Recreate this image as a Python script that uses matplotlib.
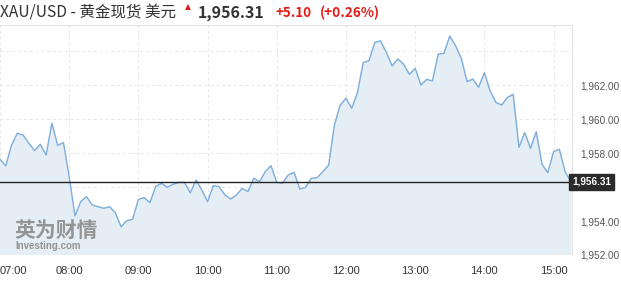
import matplotlib
matplotlib.use("Agg")
import matplotlib.pyplot as plt
import numpy as np

# ---- data (5-minute intervals starting 07:00) ----
prices = [
    1957.63, 1957.24, 1958.47, 1959.16, 1959.06, 1958.57, 1958.14, 1958.51, 1957.88, 1959.75,
    1958.45, 1958.61, 1956.60, 1954.29, 1955.14, 1955.43, 1954.94, 1954.84, 1954.75, 1954.84,
    1954.49, 1953.66, 1954.02, 1954.10, 1955.27, 1955.37, 1955.08, 1956.02, 1956.22, 1955.98,
    1956.16, 1956.27, 1956.27, 1955.66, 1956.41, 1955.82, 1955.14, 1956.08, 1956.02, 1955.53,
    1955.29, 1955.53, 1955.92, 1955.73, 1956.51, 1956.31, 1956.90, 1957.25, 1956.27, 1956.22,
    1956.71, 1956.86, 1955.88, 1955.98, 1956.51, 1956.55, 1956.90, 1957.29, 1959.65, 1960.82,
    1961.22, 1960.63, 1961.55, 1963.33, 1963.43, 1964.51, 1964.59, 1963.92, 1963.12, 1963.53,
    1963.22, 1962.63, 1962.98, 1962.00, 1962.33, 1962.24, 1963.82, 1963.86, 1964.88, 1964.31,
    1963.57, 1962.20, 1962.35, 1961.86, 1962.73, 1961.65, 1960.98, 1960.82, 1961.27, 1961.45,
    1958.33, 1959.20, 1958.27, 1959.25, 1957.33, 1956.84, 1958.08, 1958.22, 1956.90, 1956.31,
]
step_minutes = 5
hour_ticks = [0, 60, 120, 180, 240, 300, 360, 420, 480]
hour_labels = ["07:00", "08:00", "09:00", "10:00", "11:00", "12:00", "13:00", "14:00", "15:00"]
label_ticks = [1952, 1954, 1958, 1960, 1962]
label_texts = ["1,952.00", "1,954.00", "1,958.00", "1,960.00", "1,962.00"]
extra_grid = [1956, 1964]
last_price = 1956.31
title_main = "XAU/USD - 黄金现货 美元"
title_price = "1,956.31"
title_change = "+5.10"
title_pct = "(+0.26%)"

W, H = 621, 282
fig = plt.figure(figsize=(W / 100, H / 100), dpi=100)
fig.patch.set_facecolor("white")

ax = fig.add_axes([0, 1 - 255 / H, 572 / W, (255 - 25) / H])
x = np.arange(len(prices)) * step_minutes
ax.set_facecolor("white")
ax.fill_between(x, prices, 1940, color="#e6eef5", zorder=1)
ax.plot(x, prices, color="#7eaedc", lw=1.0, zorder=3)
ax.axhline(last_price, color="#222222", lw=1.0, zorder=4)

ax.set_xlim(0, 496)
ax.set_ylim(1952, 1965.53)

ax.set_xticks(hour_ticks)
ax.set_xticklabels(hour_labels)
ax.set_yticks(label_ticks)
ax.set_yticklabels(label_texts)
ax.yaxis.tick_right()
ax.tick_params(axis="y", length=0, pad=6, labelsize=7.2, labelcolor="#555555")
ax.tick_params(axis="x", length=0, pad=8, labelsize=8, labelcolor="#333333")
for lab in ax.get_yticklabels() + ax.get_xticklabels():
    lab.set_fontfamily("Liberation Sans")
ax.get_xticklabels()[0].set_horizontalalignment("left")

ax.grid(True, color="#e6e6e6", lw=0.7, ls=(0, (3, 3)), zorder=0)
for g in extra_grid:
    ax.axhline(g, color="#e6e6e6", lw=0.7, ls=(0, (3, 3)), zorder=0)
ax.set_axisbelow(True)
for side in ["left", "bottom"]:
    ax.spines[side].set_visible(False)
for side in ["top", "right"]:
    ax.spines[side].set_color("#e4e4e4")
    ax.spines[side].set_linewidth(0.8)

# last price box
ax.text(1.0, last_price, "1,956.31", transform=ax.get_yaxis_transform(),
        ha="left", va="center", fontsize=7.2, color="white", fontweight="bold",
        family="Liberation Sans", zorder=6,
        bbox=dict(boxstyle="square,pad=0.3", fc="#2b2b2b", ec="#2b2b2b"))

# watermark
ax.text(14 / 572, 1 - (230 - 25) / 230, "英为财情", transform=ax.transAxes,
        ha="left", va="center", fontsize=15, fontweight="bold", color="#8a8a8a",
        family=["Noto Sans CJK SC", "DejaVu Sans"], alpha=0.9, zorder=2)
ax.text(15 / 572, 1 - (246 - 25) / 230, "Investing.com", transform=ax.transAxes,
        ha="left", va="center", fontsize=7, fontweight="bold", color="#8a8a8a",
        family="Liberation Sans", alpha=0.9, zorder=2)

# title row
ty = 1 - 13 / H
fig.text(0 / W, ty, title_main, ha="left", va="center", fontsize=11.2, color="#333333",
         family=["Noto Sans CJK SC", "DejaVu Sans"])
fig.text(187.5 / W, 1 - 6.5 / H, "\u25b2", ha="center", va="center", fontsize=5.5, color="#e41b17",
         family="DejaVu Sans")
fig.text(198 / W, ty, title_price, ha="left", va="center", fontsize=11.5, fontweight="bold",
         color="#333333", family=["Noto Sans CJK SC", "DejaVu Sans"])
fig.text(275 / W, ty, title_change, ha="left", va="center", fontsize=9.6, fontweight="bold",
         color="#e41b17", family=["Noto Sans CJK SC", "DejaVu Sans"])
fig.text(320 / W, ty, title_pct, ha="left", va="center", fontsize=9.8, fontweight="bold",
         color="#e41b17", family=["Noto Sans CJK SC", "DejaVu Sans"])

fig.savefig("out.png", dpi=100)
